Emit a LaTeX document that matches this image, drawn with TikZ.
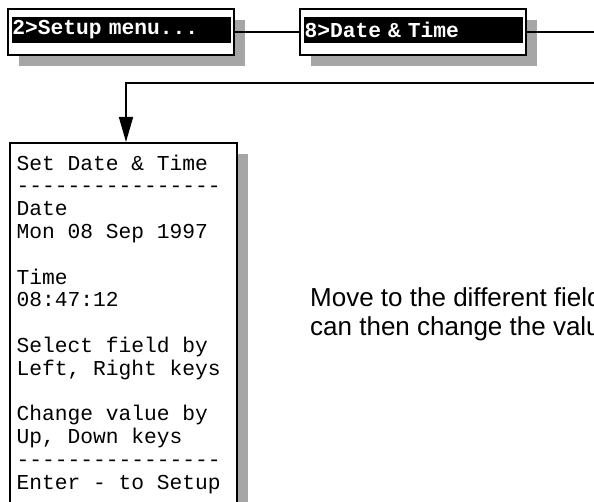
\documentclass[tikz,border=0pt]{standalone}
\usepackage{fontspec}
\usepackage{tikz}
\usetikzlibrary{arrows.meta,shadows}
\setmainfont{Liberation Sans}
\newfontfamily\lcdfont{Liberation Mono}
\definecolor{shadowgray}{RGB}{166,166,166}
\newcommand{\lcdrule}{-{}-{}-{}-{}-{}-{}-{}-{}-{}-{}-{}-{}-{}-{}-{}-{}}

\begin{document}
\begin{tikzpicture}[x=1pt,y=-1pt,
  menubox/.style={draw,line width=2pt,fill=white,inner sep=0pt,
    minimum width=226pt,minimum height=46pt,
    drop shadow={shadow xshift=11pt,shadow yshift=-11pt,fill=shadowgray,opacity=1}},
  menubar/.style={fill=black,text=white,inner sep=0pt,inner xsep=1pt,
    text width=217pt,align=left,minimum height=26pt,
    font=\lcdfont\bfseries\fontsize{21.25}{22.8}\selectfont},
  screenbox/.style={menubox,minimum width=227pt,minimum height=380pt},
  screentext/.style={inner sep=0pt,align=left,
    font=\lcdfont\fontsize{21.25}{22.8}\selectfont},
  link/.style={line width=1.6pt}]
\useasboundingbox (0,0) rectangle (594,502);
\clip (0,0) rectangle (594,502);

% menu path
\node[menubox] (setup) at (121,32) {};
\node[menubar,yshift=2pt] (setupbar) at (setup) {2>Setup menu...};
\node[menubox] (date) at (413,32) {};
\node[menubar,yshift=2pt] (datebar) at (date) {8>Date \& Time};

% the screen that opens
\node[screenbox,anchor=north west] (datebox) at (9,142) {};
\node[screentext,anchor=north west] (datetext) at ([shift={(7.5,12.5)}]datebox.north west)
  {Set Date \& Time\\
   \lcdrule\\
   Date\\
   Mon 08 Sep 1997\\[22.8pt]
   Time\\
   08:47:12\\[22.8pt]
   Select field by\\
   Left, Right keys\\[22.8pt]
   Change value by\\
   Up, Down keys\\
   \lcdrule\\
   Enter - to Setup};

\node[anchor=north west,inner sep=0pt,align=left,
  font=\fontsize{26}{29}\selectfont] (hint) at (310,287.5)
  {Move to the different field\\can then change the valu};

% connectors
\coordinate (exit) at (620,32);
\coordinate (return) at (620,83);
\coordinate (turn) at (126,83);
\draw[link] (setup.east) -- (date.west);
\draw[link] (date.east) -- (exit);
\draw[link,-{Triangle[length=25pt,width=14pt]}] (return) -- (turn) -- (turn |- datebox.north);
\end{tikzpicture}
\end{document}
